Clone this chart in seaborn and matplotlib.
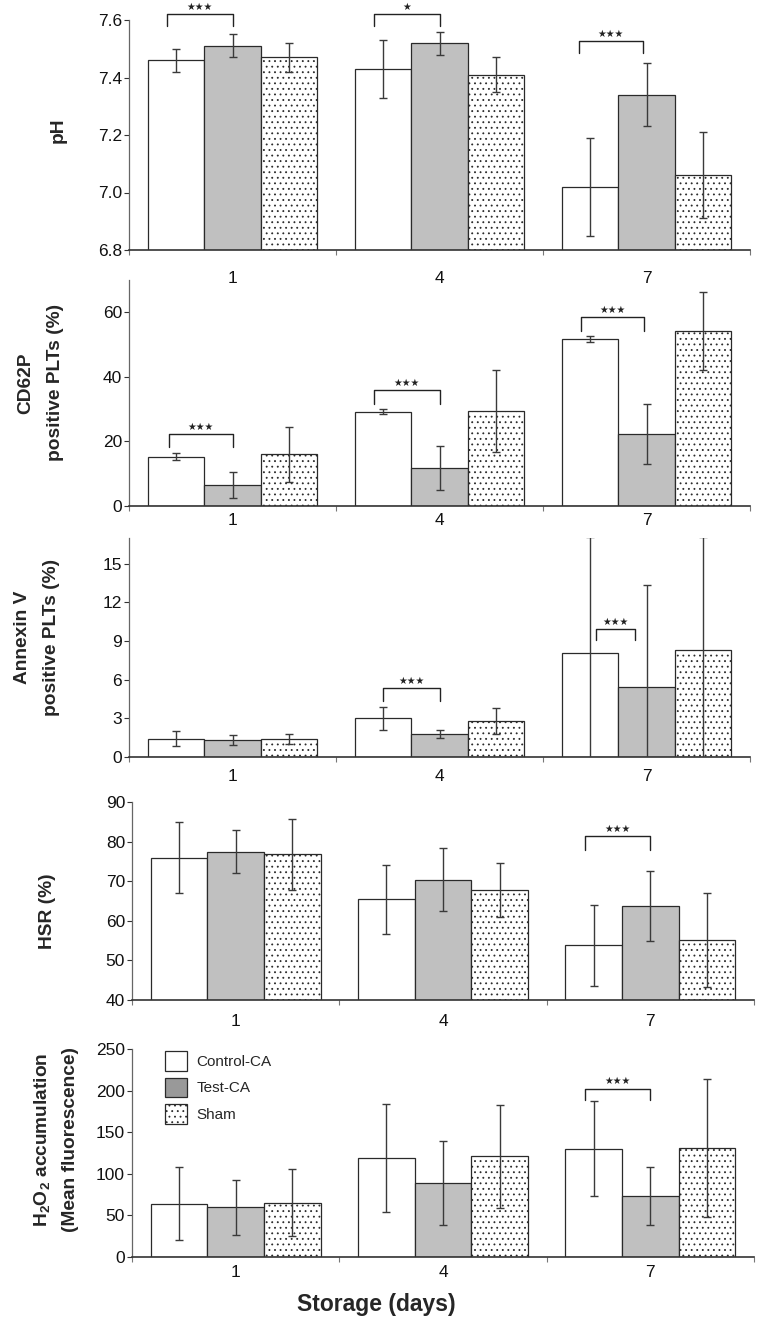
import numpy as np
import pandas as pd
import matplotlib
matplotlib.use("Agg")
import matplotlib.pyplot as plt
import seaborn as sns

# =============================
# Data (rows: Control-CA, Test-CA, Sham ; cols: day 1, 4, 7)
# =============================
DAYS = ["1", "4", "7"]
GROUPS = ["Control-CA", "Test-CA", "Sham"]

PH_MEAN = [[7.46, 7.43, 7.02], [7.51, 7.52, 7.34], [7.47, 7.41, 7.06]]
PH_SD = [[0.04, 0.10, 0.17], [0.04, 0.04, 0.11], [0.05, 0.06, 0.15]]

CD62P_MEAN = [[15.3, 29.2, 51.7], [6.4, 11.9, 22.3], [16.0, 29.4, 54.2]]
CD62P_SD = [[1.0, 0.8, 0.9], [4.0, 6.8, 9.4], [8.6, 12.7, 12.0]]

ANNEXIN_MEAN = [[1.42, 3.0, 8.1], [1.30, 1.79, 5.42], [1.42, 2.82, 8.34]]
ANNEXIN_SD = [[0.58, 0.9, 9.0], [0.38, 0.28, 7.9], [0.40, 1.0, 8.7]]

HSR_MEAN = [[75.9, 65.4, 53.8], [77.5, 70.4, 63.8], [76.8, 67.7, 55.1]]
HSR_SD = [[9.0, 8.8, 10.3], [5.4, 7.9, 8.9], [8.9, 6.8, 11.8]]

H2O2_MEAN = [[64, 119, 130], [60, 89, 73.5], [65.5, 121, 131]]
H2O2_SD = [[44, 65, 57], [33, 50, 35], [40.5, 62, 83]]

# significance (day index, label) for Control-CA vs Test-CA
PH_SIG = [(0, "★★★"), (1, "★"), (2, "★★★")]
CD62P_SIG = [(0, "★★★"), (1, "★★★"), (2, "★★★")]
ANNEXIN_SIG = [(1, "★★★"), (2, "★★★")]
HSR_SIG = [(2, "★★★")]
H2O2_SIG = [(2, "★★★")]

# =============================
# Style
# =============================
sns.set_theme(style="ticks")
plt.rcParams["font.family"] = ["Liberation Sans", "DejaVu Sans"]
plt.rcParams["mathtext.fontset"] = "custom"
plt.rcParams["mathtext.rm"] = "Liberation Sans"
plt.rcParams["mathtext.bf"] = "Liberation Sans:bold"
plt.rcParams["hatch.linewidth"] = 0.6
plt.rcParams["hatch.color"] = "#222222"

PALETTE = ["white", "#c0c0c0", "white"]
EDGE = "#2a2a2a"
AXC = "#333333"
TICK_FS = 12.5
LABEL_FS = 13.8

W, H = 760, 1332
fig = plt.figure(figsize=(W / 100, H / 100), dpi=100)


def px_axes(left, top, right, bottom):
    return fig.add_axes([left / W, 1 - bottom / H, (right - left) / W, (bottom - top) / H])


# panel layout: axes box in px, ylim, ticks, fmt, xtick pad, ylabel position,
# bracket levels (top, leg) and x offsets (in bar widths) for each mark
PANELS = [
    dict(mean=PH_MEAN, sd=PH_SD, sig=PH_SIG, label="pH",
         box=(129, 20, 750, 250), ylim=(6.8, 7.6), ticks=[6.8, 7.0, 7.2, 7.4, 7.6], fmt="{:.1f}",
         pad=15, labx=58, laby=0.52, ls=1.25,
         br=[(7.622, 7.579, -0.15, 0.0), (7.622, 7.579, -0.15, 0.0), (7.527, 7.485, -0.2, -0.07)]),
    dict(mean=CD62P_MEAN, sd=CD62P_SD, sig=CD62P_SIG, label="CD62P\npositive PLTs (%)",
         box=(129, 280, 750, 506), ylim=(0, 70), ticks=[0, 20, 40, 60], fmt="{:.0f}",
         pad=5, labx=41, laby=0.545, ls=2.0,
         br=[(22.2, 18.2, -0.12, 0.0), (35.8, 31.7, -0.15, 0.0), (58.4, 54.3, -0.15, -0.05)]),
    dict(mean=ANNEXIN_MEAN, sd=ANNEXIN_SD, sig=ANNEXIN_SIG, label="Annexin V\npositive PLTs (%)",
         box=(129, 538, 750, 757), ylim=(0, 17), ticks=[0, 3, 6, 9, 12, 15], fmt="{:.0f}",
         pad=8.5, labx=37, laby=0.545, ls=1.9,
         br=[(5.34, 4.37, 0.0, 0.0), (9.95, 9.1, 0.1, -0.2)]),
    dict(mean=HSR_MEAN, sd=HSR_SD, sig=HSR_SIG, label="HSR (%)",
         box=(132, 802, 754, 1000), ylim=(40, 90), ticks=[40, 50, 60, 70, 80, 90], fmt="{:.0f}",
         pad=10, labx=47, laby=0.45, ls=1.25,
         br=[(81.3, 78.0, -0.15, 0.0)]),
    dict(mean=H2O2_MEAN, sd=H2O2_SD, sig=H2O2_SIG,
         label=r"H$_\mathbf{2}$O$_\mathbf{2}$ accumulation" + "\n(Mean fluorescence)",
         box=(132, 1049, 754, 1257), ylim=(0, 250), ticks=[0, 50, 100, 150, 200, 250], fmt="{:.0f}",
         pad=5.5, labx=56, laby=0.565, ls=1.7,
         br=[(202.5, 188.9, -0.15, 0.0)]),
]


def draw_panel(spec, legend=False):
    left, top, right, bottom = spec["box"]
    ax = px_axes(left, top, right, bottom)
    ax.set_facecolor("none")
    mean, sd = spec["mean"], spec["sd"]
    df = pd.DataFrame({
        "day": np.tile(DAYS, len(GROUPS)),
        "group": np.repeat(GROUPS, len(DAYS)),
        "value": np.ravel(mean),
    })
    sns.barplot(data=df, x="day", y="value", hue="group", order=DAYS, hue_order=GROUPS,
                palette=PALETTE, width=0.82, errorbar=None, edgecolor=EDGE,
                linewidth=0.9, legend=False, ax=ax)

    bars = list(ax.containers)
    centers = []
    for gi, cont in enumerate(bars):
        xs = [p.get_x() + p.get_width() / 2 for p in cont.patches]
        centers.append(xs)
        if gi == 2:
            for p in cont.patches:
                p.set_hatch("...")
        ax.errorbar(xs, mean[gi], yerr=sd[gi], fmt="none", ecolor="#3a3a3a",
                    elinewidth=1.0, capsize=3.2, capthick=1.0, zorder=5)
    barw = bars[0].patches[0].get_width()

    # significance brackets
    for (di, txt), (ytop, yleg, dx0, dx1) in zip(spec["sig"], spec["br"]):
        x0 = centers[0][di] + dx0 * barw
        x1 = centers[1][di] + dx1 * barw
        ax.plot([x0, x0, x1, x1], [yleg, ytop, ytop, yleg], color="#222222", lw=1.0,
                clip_on=False, zorder=6)
        ax.annotate(txt, xy=((x0 + x1) / 2, ytop), xytext=(0, 1.5), textcoords="offset points",
                    ha="center", va="bottom", fontsize=7, family="DejaVu Sans",
                    color="#222222", annotation_clip=False)

    ax.set_ylim(*spec["ylim"])
    ax.set_yticks(spec["ticks"])
    ax.set_yticklabels([spec["fmt"].format(t) for t in spec["ticks"]])
    ax.set_xlim(-0.5, 2.5)
    ax.set_xticks(range(len(DAYS)))
    ax.set_xticklabels(DAYS)
    ax.set_xticks([-0.5, 0.5, 1.5, 2.5], minor=True)
    ax.tick_params(axis="x", which="major", length=0, pad=spec["pad"], labelsize=TICK_FS,
                   colors="#111111")
    ax.tick_params(axis="x", which="minor", length=3.5, width=0.8, color="#777777")
    ax.tick_params(axis="y", length=3.5, width=0.8, pad=1.5, labelsize=TICK_FS, color=AXC,
                   labelcolor="#111111")
    for s in ["top", "right"]:
        ax.spines[s].set_visible(False)
    ax.spines["left"].set_color("#666666")
    ax.spines["left"].set_linewidth(0.9)
    ax.spines["bottom"].set_color("#333333")
    ax.spines["bottom"].set_linewidth(1.2)
    ax.set_xlabel("")
    ax.set_ylabel(spec["label"], fontsize=LABEL_FS, fontweight="bold", va="center",
                  multialignment="center", linespacing=spec["ls"])
    ax.yaxis.set_label_coords((spec["labx"] - left) / (right - left), spec["laby"])

    if legend:
        handles = [cont.patches[0] for cont in bars]
        leg = ax.legend(handles, GROUPS, loc="upper left",
                        bbox_to_anchor=((165 - left) / (right - left), 1 - 2 / (bottom - top)),
                        frameon=False, fontsize=11, handlelength=1.45, handleheight=1.6,
                        handletextpad=0.6, labelspacing=0.45, borderpad=0, borderaxespad=0)
        leg.legend_handles[1].set_facecolor("#999999")
    return ax


for i, spec in enumerate(PANELS):
    draw_panel(spec, legend=(i == len(PANELS) - 1))

fig.text(376 / W, 1 - 1305 / H, "Storage (days)", ha="center", va="center",
         fontsize=16.5, fontweight="bold")

fig.savefig("out.png", dpi=100)
